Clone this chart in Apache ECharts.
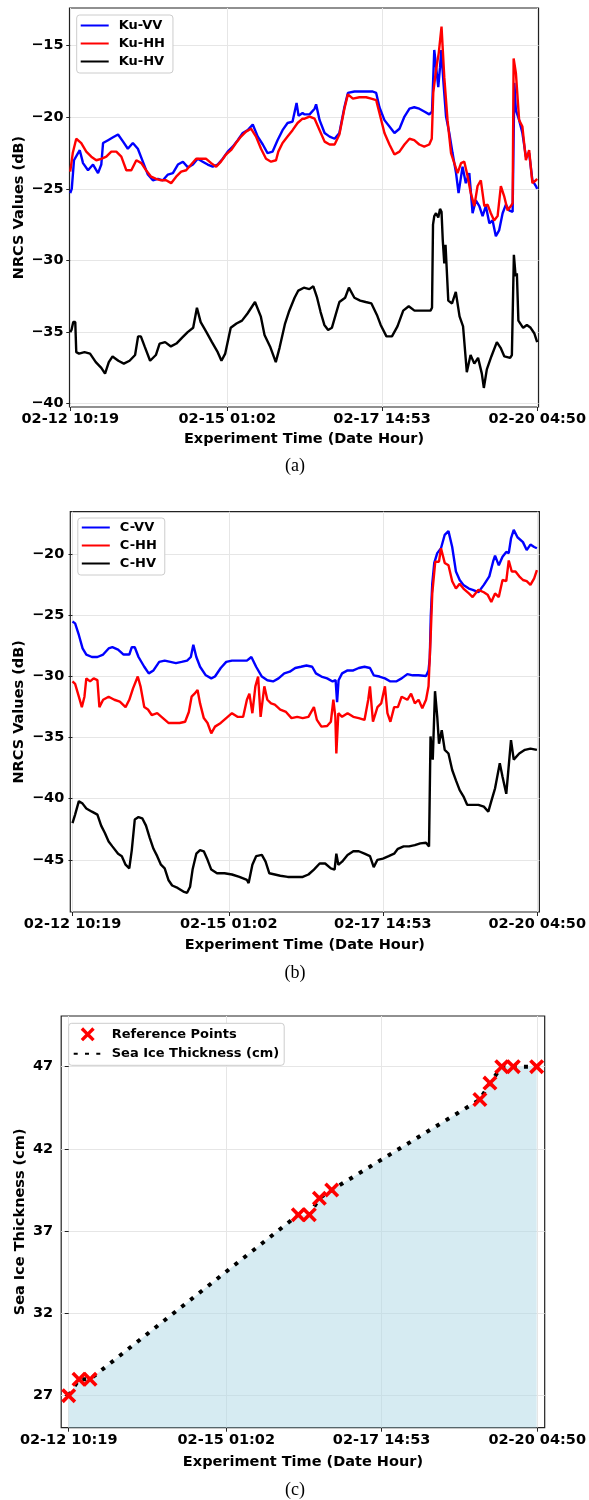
<!DOCTYPE html>
<html><head><meta charset="utf-8">
<script src="https://cdn.jsdelivr.net/npm/echarts@6.0.0/dist/echarts.min.js"></script>
<style>html,body{margin:0;padding:0;background:#fff}#c{width:589px;height:1500px}</style>
</head><body><div id="c"></div><script>
// ---- tick positions (hours since 02-12 10:19) and labels ----
const tickHours = [0, 62.72, 124.57, 186.52];
const tickLabels = ['02-12 10:19', '02-15 01:02', '02-17 14:53', '02-20 04:50'];
const kuTicks = [-40, -35, -30, -25, -20, -15];
const cTicks = [-45, -40, -35, -30, -25, -20];
const thickTicks = [27, 32, 37, 42, 47];

// ---- panel (a): Ku band [hours, dB] ----
const kuVV = [[0,-25.3],[0.6,-25.0],[1.5,-23.0],[3.1,-22.5],[3.8,-22.3],[5.1,-23.2],[7.1,-23.7],[9.1,-23.3],[11.1,-23.9],[12.4,-23.3],[13.1,-21.8],[15.1,-21.6],[17.1,-21.4],[19.1,-21.2],[21.1,-21.7],[23.0,-22.2],[25.0,-21.8],[27.0,-22.2],[29.0,-23.1],[31.0,-24.0],[33.0,-24.4],[35.0,-24.3],[37.0,-24.4],[39.0,-24.0],[41.0,-23.9],[43.0,-23.3],[45.0,-23.1],[47.0,-23.5],[49.0,-23.3],[50.9,-22.9],[52.9,-23.1],[54.9,-23.3],[56.9,-23.45],[58.9,-23.3],[60.9,-22.9],[62.9,-22.4],[64.9,-22.05],[66.9,-21.6],[68.9,-21.1],[70.9,-20.9],[72.9,-20.5],[74.9,-21.35],[76.9,-21.9],[78.8,-22.5],[80.8,-22.4],[82.8,-21.6],[84.8,-20.9],[86.8,-20.4],[88.8,-20.3],[90.4,-19.0],[91.2,-19.9],[92.8,-19.7],[93.6,-19.8],[95.6,-19.8],[97.6,-19.4],[98.2,-19.1],[99.6,-20.2],[101.6,-21.1],[103.6,-21.35],[105.6,-21.5],[107.5,-21.1],[109.5,-19.3],[110.9,-18.3],[113.5,-18.2],[116.2,-18.2],[118.8,-18.2],[120.8,-18.2],[122.2,-18.3],[123.5,-19.3],[125.5,-20.2],[127.5,-20.65],[129.5,-21.1],[131.5,-20.8],[133.5,-19.95],[135.5,-19.4],[137.4,-19.3],[139.4,-19.4],[141.4,-19.6],[143.4,-19.8],[144.5,-19.6],[145.4,-15.3],[146.4,-16.9],[147.0,-17.9],[147.7,-16.5],[148.2,-15.3],[149.0,-17.4],[150.1,-19.95],[151.4,-21.1],[152.7,-22.5],[154.1,-23.9],[155.1,-25.3],[156.7,-23.45],[158.0,-24.6],[159.4,-23.9],[160.7,-26.7],[162.0,-25.8],[163.4,-26.2],[164.7,-26.9],[166.0,-26.2],[167.4,-27.4],[168.7,-27.2],[170.0,-28.3],[171.3,-27.9],[172.7,-26.7],[174.0,-26.1],[175.3,-26.5],[176.7,-26.6],[177.4,-17.6],[178.0,-19.5],[179.3,-20.2],[180.6,-21.1],[182.0,-22.75],[183.3,-22.5],[184.6,-24.4],[186.0,-24.8],[186.5,-25.0]];
const kuHH = [[0,-23.8],[1.0,-22.5],[2.4,-21.5],[4.4,-21.8],[6.4,-22.4],[8.4,-22.75],[10.4,-23.0],[12.4,-22.9],[14.4,-22.75],[16.4,-22.4],[18.4,-22.4],[20.4,-22.75],[22.4,-23.7],[24.4,-23.7],[26.4,-23.0],[28.4,-23.2],[30.3,-23.7],[32.3,-24.15],[34.3,-24.3],[36.3,-24.4],[38.3,-24.4],[40.3,-24.6],[42.3,-24.15],[44.3,-23.8],[46.3,-23.7],[48.3,-23.3],[50.3,-22.9],[52.3,-22.9],[54.3,-22.9],[56.3,-23.2],[58.3,-23.45],[60.2,-23.1],[62.2,-22.6],[64.2,-22.3],[66.2,-21.8],[68.2,-21.35],[70.2,-21.0],[72.2,-20.8],[74.2,-21.35],[76.2,-22.2],[78.2,-22.9],[80.2,-23.1],[82.2,-23.0],[83.1,-22.4],[84.8,-21.8],[86.8,-21.35],[88.8,-20.9],[90.8,-20.4],[92.8,-20.1],[93.6,-20.1],[95.6,-19.95],[97.6,-20.1],[99.6,-20.9],[101.6,-21.7],[103.6,-21.9],[105.6,-21.9],[107.5,-21.2],[109.5,-19.4],[110.9,-18.4],[112.9,-18.7],[115.5,-18.6],[118.2,-18.6],[120.2,-18.7],[122.2,-18.8],[123.5,-19.7],[125.5,-21.1],[127.5,-21.9],[129.5,-22.6],[131.5,-22.4],[133.5,-21.9],[135.5,-21.5],[137.4,-21.6],[139.4,-21.9],[141.4,-22.05],[143.4,-21.9],[144.4,-21.5],[145.0,-18.3],[146.1,-16.7],[147.2,-15.5],[148.3,-13.67],[149.4,-17.2],[150.7,-20.2],[152.1,-22.5],[153.4,-23.2],[154.7,-23.9],[156.1,-23.2],[157.4,-23.1],[158.7,-24.1],[160.0,-25.3],[161.4,-26.2],[162.7,-24.8],[164.0,-24.4],[165.4,-26.2],[166.7,-26.1],[168.0,-26.7],[169.3,-27.2],[170.7,-26.9],[172.0,-24.8],[173.3,-25.5],[174.7,-26.5],[176.0,-26.2],[176.7,-26.0],[177.1,-15.9],[178.0,-16.9],[179.3,-20.2],[180.6,-20.65],[182.0,-23.0],[183.3,-22.3],[184.6,-24.6],[186.0,-24.4],[186.5,-24.3]];
const kuHV = [[0,-35.0],[0.5,-34.85],[1.2,-34.3],[2.0,-34.3],[2.4,-36.4],[3.5,-36.5],[5.7,-36.4],[7.9,-36.5],[10.2,-37.1],[12.4,-37.5],[13.9,-37.9],[15.4,-37.1],[16.9,-36.7],[19.2,-37.0],[21.4,-37.2],[23.7,-37.0],[25.9,-36.6],[27.1,-35.3],[28.2,-35.3],[29.7,-36.0],[31.9,-37.0],[34.2,-36.6],[35.7,-35.8],[37.9,-35.7],[40.2,-36.0],[42.4,-35.8],[44.6,-35.4],[46.9,-35.0],[49.1,-34.7],[50.6,-33.3],[52.1,-34.3],[54.4,-35.0],[56.6,-35.7],[58.9,-36.4],[60.4,-37.0],[61.9,-36.5],[64.1,-34.7],[66.4,-34.4],[68.6,-34.2],[70.8,-33.7],[72.3,-33.3],[73.8,-32.9],[76.1,-33.9],[77.6,-35.2],[79.8,-36.0],[82.1,-37.1],[83.6,-36.1],[85.8,-34.4],[87.3,-33.6],[89.6,-32.6],[91.1,-32.1],[93.3,-31.9],[95.5,-32.0],[97.1,-31.8],[98.6,-32.6],[100.0,-33.6],[101.5,-34.5],[103.0,-34.85],[104.5,-34.7],[106.0,-33.8],[107.5,-32.9],[109.8,-32.6],[111.3,-31.9],[113.5,-32.6],[115.8,-32.8],[118.0,-32.9],[120.3,-33.0],[122.5,-33.8],[124.0,-34.5],[126.3,-35.3],[128.5,-35.3],[130.7,-34.6],[133.0,-33.5],[135.2,-33.2],[137.5,-33.5],[139.7,-33.5],[142.0,-33.5],[143.9,-33.5],[144.5,-33.3],[144.9,-27.5],[145.4,-26.9],[146.1,-26.7],[147.0,-27.0],[147.7,-26.4],[148.3,-26.6],[148.8,-28.6],[149.4,-30.2],[149.9,-28.9],[151.0,-32.8],[152.5,-33.0],[154.0,-32.2],[155.5,-33.9],[156.9,-34.6],[158.4,-37.8],[159.9,-36.6],[161.4,-37.2],[162.9,-36.8],[164.4,-37.9],[165.2,-38.9],[166.4,-37.6],[168.2,-36.7],[170.4,-35.7],[171.9,-36.1],[173.4,-36.7],[175.7,-36.8],[176.4,-36.6],[177.2,-29.6],[177.9,-31.1],[178.4,-30.9],[179.0,-34.2],[180.9,-34.7],[182.4,-34.5],[183.9,-34.7],[185.4,-35.1],[186.5,-35.7]];

// ---- panel (b): C band [hours, dB] ----
const cVV = [[0,-25.5],[1.05,-25.65],[2.55,-26.6],[4.05,-27.7],[5.55,-28.2],[7.8,-28.4],[10.0,-28.4],[12.3,-28.2],[14.5,-27.7],[16.0,-27.6],[18.3,-27.8],[20.5,-28.2],[22.8,-28.2],[23.8,-27.6],[25.0,-27.6],[26.5,-28.4],[28.8,-29.2],[30.6,-29.74],[32.5,-29.5],[34.8,-28.8],[37.0,-28.7],[39.3,-28.8],[41.5,-28.9],[43.8,-28.8],[46.0,-28.7],[47.5,-28.4],[48.5,-27.4],[49.7,-28.4],[51.2,-29.2],[53.5,-29.9],[55.7,-30.15],[57.2,-30.0],[59.5,-29.3],[61.7,-28.8],[64.0,-28.7],[67.0,-28.7],[70.0,-28.7],[71.8,-28.4],[73.7,-29.2],[76.0,-30.0],[78.2,-30.3],[80.5,-30.4],[82.7,-30.15],[85.0,-29.74],[87.2,-29.6],[89.4,-29.3],[91.7,-29.2],[93.9,-29.1],[96.2,-29.2],[97.7,-29.74],[99.9,-30.0],[102.2,-30.15],[104.4,-30.4],[105.6,-30.3],[106.2,-32.1],[106.8,-30.3],[108.2,-29.74],[110.4,-29.5],[112.7,-29.5],[114.9,-29.3],[117.2,-29.2],[119.4,-29.3],[120.9,-29.9],[123.2,-30.0],[125.4,-30.15],[127.6,-30.4],[129.9,-30.4],[132.1,-30.15],[134.4,-29.8],[136.6,-29.9],[138.9,-29.9],[141.9,-29.96],[142.9,-29.5],[143.4,-28.5],[143.8,-25.1],[144.4,-22.4],[145.2,-20.7],[146.4,-19.9],[147.9,-19.5],[149.4,-18.4],[150.9,-18.1],[152.4,-19.4],[153.9,-21.4],[155.4,-22.1],[156.9,-22.5],[159.1,-22.8],[160.6,-22.9],[162.9,-23.1],[165.1,-22.5],[167.3,-21.8],[168.8,-20.6],[169.6,-20.1],[171.1,-20.9],[172.6,-20.2],[174.1,-19.8],[175.1,-19.9],[176.0,-18.7],[177.1,-18.0],[178.6,-18.6],[180.8,-19.0],[182.3,-19.65],[183.8,-19.2],[185.3,-19.4],[186.4,-19.5]];
const cHH = [[0,-30.4],[1.05,-30.6],[2.55,-31.65],[3.75,-32.5],[4.8,-31.65],[5.55,-30.15],[7.05,-30.4],[8.5,-30.15],[10.0,-30.3],[10.8,-32.5],[12.3,-31.9],[14.5,-31.65],[16.8,-31.9],[19.0,-32.05],[21.3,-32.5],[22.8,-31.9],[24.3,-30.97],[26.2,-30.0],[27.3,-30.8],[28.8,-32.5],[30.3,-32.7],[31.8,-33.15],[34.0,-33.0],[36.3,-33.4],[38.5,-33.8],[40.8,-33.8],[43.0,-33.8],[45.2,-33.7],[46.7,-32.9],[47.8,-31.65],[49.0,-31.4],[50.2,-31.1],[51.2,-32.2],[52.7,-33.4],[54.2,-33.8],[55.7,-34.65],[57.2,-34.1],[59.5,-33.8],[61.7,-33.4],[64.0,-33.0],[66.2,-33.3],[68.5,-33.3],[70.0,-31.9],[71.0,-31.4],[72.2,-33.0],[73.4,-30.8],[74.5,-30.0],[75.5,-33.3],[77.0,-30.8],[78.2,-31.9],[79.7,-32.2],[81.2,-32.3],[83.4,-32.7],[85.7,-32.9],[87.9,-33.4],[90.2,-33.3],[92.4,-33.4],[94.7,-33.3],[96.9,-32.5],[98.1,-33.55],[99.9,-34.1],[102.2,-34.05],[103.7,-33.7],[104.7,-31.9],[105.5,-33.3],[105.9,-36.3],[106.7,-33.0],[108.2,-33.3],[110.4,-33.0],[112.7,-33.3],[114.9,-33.4],[117.2,-33.55],[118.7,-31.9],[119.4,-30.8],[120.6,-33.7],[122.4,-32.5],[123.9,-32.2],[125.4,-30.8],[126.4,-33.0],[127.6,-33.7],[129.1,-32.5],[130.6,-32.5],[132.1,-31.65],[134.4,-31.9],[135.9,-31.4],[137.4,-32.2],[138.9,-31.9],[140.4,-32.6],[141.9,-31.9],[142.9,-30.8],[143.7,-27.0],[144.4,-23.2],[145.6,-20.6],[147.1,-20.6],[147.9,-19.5],[149.4,-20.7],[150.9,-20.9],[152.4,-22.2],[153.9,-22.8],[155.4,-22.4],[156.9,-22.8],[159.1,-23.2],[160.6,-23.5],[162.9,-22.9],[165.1,-23.1],[166.6,-23.3],[168.1,-23.9],[169.6,-23.2],[171.1,-23.5],[172.6,-22.1],[174.1,-22.2],[175.1,-20.5],[176.3,-21.4],[177.8,-21.4],[179.3,-21.8],[180.8,-22.1],[182.3,-22.2],[183.8,-22.5],[185.3,-21.96],[186.4,-21.3]];
const cHV = [[0,-42.0],[1.05,-41.3],[2.55,-40.2],[4.05,-40.4],[5.55,-40.8],[7.8,-41.06],[10.0,-41.3],[11.5,-42.2],[13.0,-42.8],[14.5,-43.5],[16.0,-43.9],[18.3,-44.5],[19.8,-44.7],[21.3,-45.4],[22.8,-45.7],[23.8,-44.2],[25.0,-41.7],[26.5,-41.5],[28.0,-41.6],[29.5,-42.2],[31.0,-43.2],[32.5,-44.1],[34.0,-44.7],[35.5,-45.4],[37.0,-45.7],[38.5,-46.65],[40.0,-47.1],[42.2,-47.3],[44.5,-47.6],[46.0,-47.7],[47.2,-47.2],[48.2,-45.8],[49.7,-44.5],[51.2,-44.2],[52.7,-44.3],[54.2,-45.0],[55.7,-45.8],[58.0,-46.1],[61.0,-46.1],[64.0,-46.2],[67.0,-46.4],[70.0,-46.65],[70.7,-46.9],[72.2,-45.4],[73.7,-44.7],[76.0,-44.6],[77.5,-45.15],[79.0,-46.1],[81.2,-46.2],[83.4,-46.3],[86.4,-46.4],[89.4,-46.4],[92.4,-46.4],[94.7,-46.2],[96.9,-45.8],[99.2,-45.3],[101.4,-45.3],[103.7,-45.7],[105.2,-45.8],[105.9,-44.5],[106.7,-45.4],[108.2,-45.15],[110.4,-44.6],[112.7,-44.3],[114.9,-44.3],[117.2,-44.5],[119.4,-44.7],[120.9,-45.6],[122.4,-45.0],[124.6,-44.9],[126.9,-44.7],[129.1,-44.5],[130.6,-44.1],[132.9,-43.9],[135.1,-43.9],[137.4,-43.8],[139.6,-43.65],[141.9,-43.6],[143.1,-43.9],[143.7,-34.9],[144.6,-36.8],[145.5,-31.2],[146.4,-33.3],[147.1,-35.5],[148.2,-34.4],[149.4,-36.0],[150.9,-36.3],[152.4,-37.65],[153.9,-38.5],[155.4,-39.3],[156.9,-39.8],[158.4,-40.5],[160.6,-40.5],[162.9,-40.5],[165.1,-40.65],[166.9,-41.06],[168.1,-40.2],[169.6,-39.15],[171.5,-37.1],[172.6,-38.2],[174.1,-39.6],[174.8,-39.7],[176.0,-35.2],[177.1,-36.8],[179.3,-36.3],[181.6,-36.0],[183.8,-35.9],[186.4,-36.0]];

// ---- panel (c): sea ice thickness reference points ----
const refHours = [0, 4.1, 8.5, 91.4, 95.8, 99.8, 104.7, 163.7, 167.7, 172.4, 177.0, 186.3];
const refThickness = [27, 28, 28, 38, 38, 39, 39.5, 45, 46, 47, 47, 47];

// ---------------------------------------------------------------
const FONT = 'DejaVu Sans';
const refPairs = refHours.map((h, i) => [h, refThickness[i]]);
const minusFmt = v => String(v).replace('-', '\u2212');
const timeFmt = v => {
  for (let i = 0; i < tickHours.length; i++) if (Math.abs(tickHours[i] - v) < 0.01) return tickLabels[i];
  return '';
};
const boldText = (size) => ({ fontFamily: FONT, fontWeight: 'bold', fontSize: size, color: '#000' });
const gridLine = { show: true, lineStyle: { color: '#e6e6e6', width: 1 } };

function xAx(gi, min, max, gap) {
  return {
    gridIndex: gi, type: 'value', min: min, max: max,
    name: 'Experiment Time (Date Hour)', nameLocation: 'middle', nameGap: gap, nameMoveOverlap: false,
    nameTextStyle: boldText(14.5),
    axisLine: { show: false },
    axisTick: { show: true, inside: false, length: 4, lineStyle: { color: '#222', width: 1 }, customValues: tickHours },
    axisLabel: Object.assign({ customValues: tickHours, formatter: timeFmt, margin: 5 }, boldText(14.5)),
    splitLine: gridLine
  };
}
function yAx(gi, min, max, ticks, name, gap, fmt, margin) {
  return {
    gridIndex: gi, type: 'value', min: min, max: max,
    name: name, nameLocation: 'middle', nameGap: gap, nameMoveOverlap: false,
    nameTextStyle: boldText(14.5),
    axisLine: { show: false },
    axisTick: { show: true, inside: false, length: 4, lineStyle: { color: '#222', width: 1 }, customValues: ticks },
    axisLabel: Object.assign({ customValues: ticks, formatter: fmt, margin: margin }, boldText(14.5)),
    splitLine: gridLine
  };
}
function lineS(name, data, color, axis) {
  return {
    type: 'line', name: name, data: data, xAxisIndex: axis, yAxisIndex: axis,
    symbol: 'none', showSymbol: false, clip: true,
    lineStyle: { color: color, width: 2.4 }, itemStyle: { color: color }
  };
}
function legendCfg(items, left, top, pad, gap) {
  return {
    data: items, orient: 'vertical', left: left, top: top,
    itemWidth: 28, itemHeight: 14, itemGap: gap, padding: pad,
    backgroundColor: '#fff', borderColor: '#cccccc', borderWidth: 1, borderRadius: 3,
    selectedMode: false,
    textStyle: Object.assign({ padding: [0, 0, 0, 5] }, boldText(13))
  };
}
// line-only legend entry (hide the default symbol drawn in the middle)
const lineItem = name => ({ name: name, itemStyle: { opacity: 0 } });
const gridBox = { show: true, borderColor: '#222', borderWidth: 1.2, backgroundColor: 'transparent' };
const XMARK = 'path://M0,1.7L1.7,0L5,3.3L8.3,0L10,1.7L6.7,5L10,8.3L8.3,10L5,6.7L1.7,10L0,8.3L3.3,5Z';

const chart = echarts.init(document.getElementById('c'), null, { renderer: 'canvas' });
chart.setOption({
  animation: false,
  backgroundColor: '#fff',
  grid: [
    Object.assign({ left: 69.5, top: 8, width: 470, height: 399 }, gridBox),
    Object.assign({ left: 70.3, top: 511.7, width: 472.2, height: 400.3 }, gridBox),
    Object.assign({ left: 61.2, top: 1016, width: 483.5, height: 411.7 }, gridBox)
  ],
  xAxis: [xAx(0, -0.3, 187.05, 25), xAx(1, -0.88, 187.4, 25.7), xAx(2, -2.99, 189.5, 27)],
  yAxis: [
    yAx(0, -40.23, -12.37, kuTicks, 'NRCS Values (dB)', 43, minusFmt, 6),
    yAx(1, -49.27, -16.51, cTicks, 'NRCS Values (dB)', 43.5, minusFmt, 6),
    yAx(2, 25.05, 50.08, thickTicks, 'Sea Ice Thickness (cm)', 33, v => String(v), 8)
  ],
  legend: [
    legendCfg(['Ku-VV', 'Ku-HH', 'Ku-HV'].map(lineItem), 76.7, 15, [4, 8, 5, 3], 5),
    legendCfg(['C-VV', 'C-HH', 'C-HV'].map(lineItem), 77.8, 518, [3, 8, 5, 3], 5),
    legendCfg([{ name: 'Reference Points' }, lineItem('Sea Ice Thickness (cm)')], 68.7, 1023.3, [4, 5, 5, 4], 6)
  ],
  series: [
    lineS('Ku-VV', kuVV, '#0000ff', 0),
    lineS('Ku-HH', kuHH, '#ff0000', 0),
    lineS('Ku-HV', kuHV, '#000000', 0),
    lineS('C-VV', cVV, '#0000ff', 1),
    lineS('C-HH', cHH, '#ff0000', 1),
    lineS('C-HV', cHV, '#000000', 1),
    {
      type: 'line', name: 'Sea Ice Thickness (cm)', data: refPairs, xAxisIndex: 2, yAxisIndex: 2,
      symbol: 'none', showSymbol: false, z: 2,
      lineStyle: { color: '#000', width: 4, type: [4, 7.3], cap: 'butt' },
      itemStyle: { color: '#000' },
      areaStyle: { color: '#add8e6', opacity: 0.5, origin: 'start' }
    },
    {
      type: 'scatter', name: 'Reference Points', data: refPairs, xAxisIndex: 2, yAxisIndex: 2,
      symbol: XMARK, symbolSize: 15, symbolKeepAspect: true, z: 3,
      itemStyle: { color: '#ff0000', opacity: 1 }
    }
  ],
  graphic: [
    { type: 'text', style: { text: '(a)', x: 295, y: 466, align: 'center', verticalAlign: 'middle', font: '18px "Liberation Serif"', fill: '#000' } },
    { type: 'text', style: { text: '(b)', x: 295, y: 973, align: 'center', verticalAlign: 'middle', font: '18px "Liberation Serif"', fill: '#000' } },
    { type: 'text', style: { text: '(c)', x: 295, y: 1490, align: 'center', verticalAlign: 'middle', font: '18px "Liberation Serif"', fill: '#000' } }
  ]
});
</script></body></html>
